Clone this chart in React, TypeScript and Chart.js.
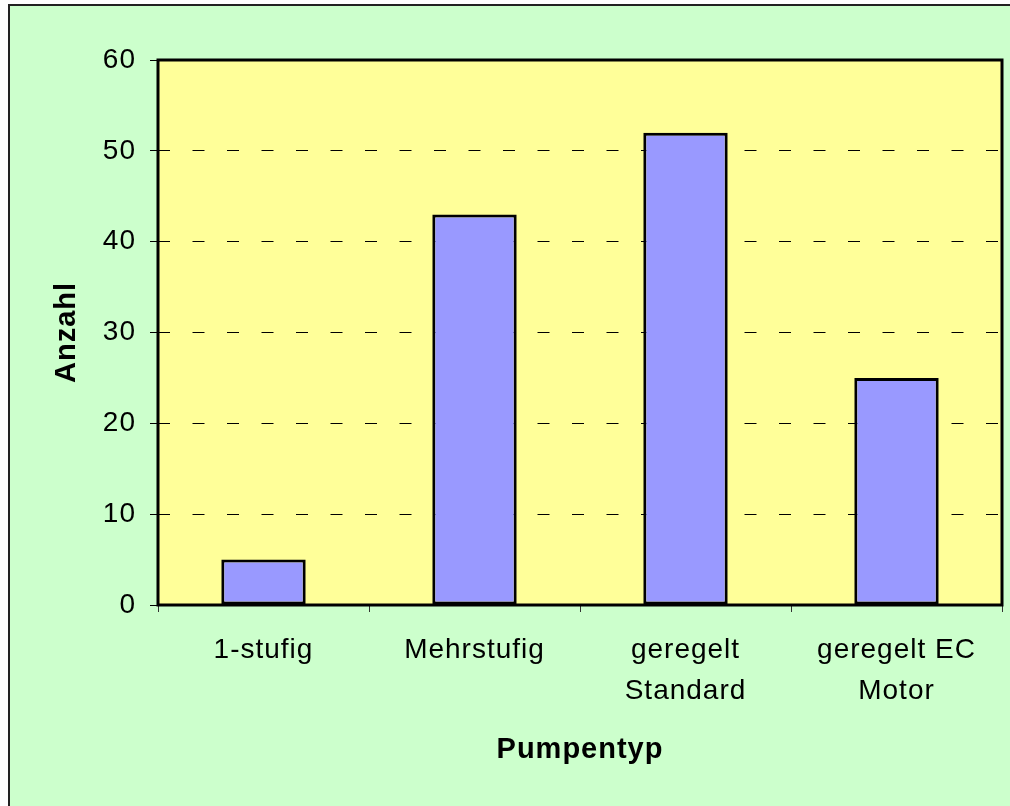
import React, { useEffect, useRef } from "react";
import { Chart, registerables } from "chart.js";

Chart.register(...registerables);

const categories: (string | string[])[] = [
  "1-stufig",
  "Mehrstufig",
  ["geregelt", "Standard"],
  ["geregelt EC", "Motor"],
];
const counts: number[] = [5, 43, 52, 25];
const yTitle = "Anzahl";
const xTitle = "Pumpentyp";
const yMin = 0;
const yMax = 60;
const yStep = 10;

const FONT = "'Liberation Sans', Arial, sans-serif";

const plotBgPlugin = {
  id: "plotBg",
  beforeDraw(chart: any) {
    const { ctx, chartArea } = chart;
    if (!chartArea) return;
    ctx.save();
    ctx.fillStyle = "#FFFF99";
    ctx.fillRect(chartArea.left, chartArea.top, chartArea.right - chartArea.left, chartArea.bottom - chartArea.top);
    ctx.restore();
    try {
      (ctx as any).letterSpacing = "1px";
    } catch (e) {}
  },
  afterDraw(chart: any) {
    const { ctx, chartArea } = chart;
    if (!chartArea) return;
    ctx.save();
    ctx.strokeStyle = "#000";
    ctx.lineWidth = 3;
    ctx.strokeRect(chartArea.left, chartArea.top, chartArea.right - chartArea.left, chartArea.bottom - chartArea.top);
    ctx.restore();
  },
};

export default function App() {
  const ref = useRef<HTMLCanvasElement | null>(null);

  useEffect(() => {
    if (!ref.current) return;
    const chart = new Chart(ref.current, {
      type: "bar",
      data: {
        labels: categories,
        datasets: [
          {
            data: counts,
            backgroundColor: "#9999FF",
            borderColor: "#000000",
            borderWidth: 3,
            borderSkipped: false,
            barPercentage: 0.4,
            categoryPercentage: 1,
          },
        ],
      },
      options: {
        responsive: false,
        animation: false,
        events: [],
        layout: { padding: { top: 54, right: 8, bottom: 0, left: 0 } },
        plugins: {
          legend: { display: false },
          tooltip: { enabled: false },
          title: { display: false },
        },
        scales: {
          x: {
            type: "category",
            offset: true,
            afterFit: (s: any) => {
              s.height = 201;
            },
            grid: {
              display: true,
              drawOnChartArea: false,
              drawTicks: true,
              tickLength: 7,
              color: "#333",
              tickColor: "#333",
              lineWidth: 1,
              offset: true,
            },
            border: { display: false },
            ticks: {
              color: "#000",
              padding: 18,
              maxRotation: 0,
              autoSkip: false,
              font: { family: FONT, size: 28, lineHeight: 1.464 },
            },
            title: {
              display: true,
              text: xTitle,
              color: "#000",
              padding: { top: 0, bottom: 39 },
              font: { family: FONT, size: 29, weight: "bold", lineHeight: 1.2 },
            },
          },
          y: {
            min: yMin,
            max: yMax,
            afterFit: (s: any) => {
              s.width = 148;
            },
            grid: {
              display: true,
              drawTicks: true,
              tickLength: 8,
              lineWidth: 1,
              color: (c: any) =>
                c.tick && (c.tick.value === yMin || c.tick.value === yMax) ? "rgba(0,0,0,0)" : "#000",
              tickColor: "#000",
              tickBorderDash: [],
            },
            border: { display: false, dash: [12, 22.5] },
            ticks: {
              stepSize: yStep,
              color: "#000",
              padding: 14,
              font: { family: FONT, size: 28 },
            },
            title: {
              display: true,
              text: yTitle,
              color: "#000",
              padding: { top: 40, bottom: 0 },
              font: { family: FONT, size: 29, weight: "bold", lineHeight: 1.2 },
            },
          },
        },
      },
      plugins: [plotBgPlugin],
    } as any);
    return () => chart.destroy();
  }, []);

  return (
    <div
      style={{
        position: "fixed",
        left: 8,
        top: 4,
        width: 1002,
        height: 802,
        boxSizing: "border-box",
        borderLeft: "2px solid #222",
        borderTop: "2px solid #222",
        background: "#CCFFCC",
        overflow: "hidden",
      }}
    >
      <canvas ref={ref} width={1000} height={800} style={{ display: "block", width: 1000, height: 800 }} />
    </div>
  );
}
